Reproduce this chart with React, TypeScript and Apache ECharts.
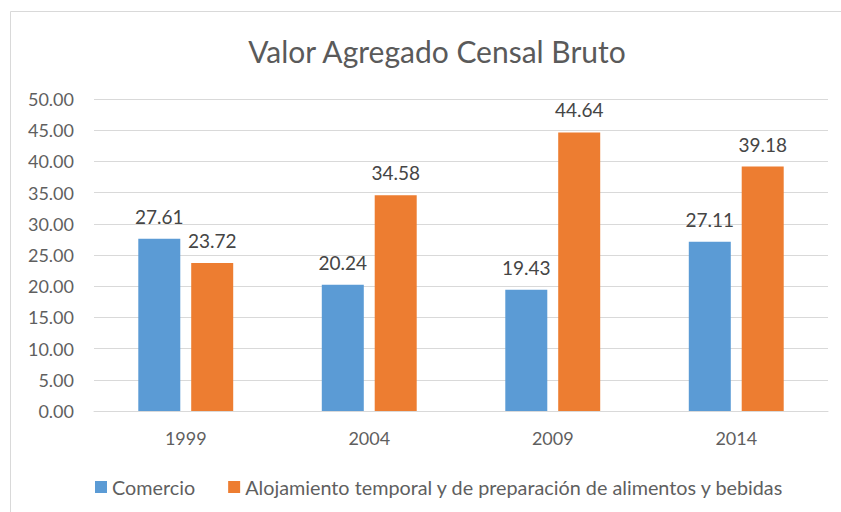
import React, { useEffect, useRef } from "react";
import * as echarts from "echarts";

const categories = ["1999", "2004", "2009", "2014"];
const comercio = [27.61, 20.24, 19.43, 27.11];
const alojamiento = [23.72, 34.58, 44.64, 39.18];
const seriesNames = ["Comercio", "Alojamiento temporal y de preparación de alimentos y bebidas"];
const title = "Valor Agregado Censal Bruto";

const FONT = "Lato, 'Open Sans', sans-serif";

export default function App() {
  const ref = useRef<HTMLDivElement>(null);
  useEffect(() => {
    const chart = echarts.init(ref.current!, undefined, { renderer: "svg" });
    const label = {
      show: true,
      position: "top",
      distance: 13,
      color: "#454545",
      fontSize: 19,
      fontFamily: FONT,
      formatter: (p: any) => p.value.toFixed(2),
    };
    chart.setOption({
      animation: false,
      backgroundColor: "#fff",
      graphic: [
        {
          type: "rect",
          shape: { x: 10.5, y: 11.5, width: 840, height: 520 },
          style: { fill: "none", stroke: "#d9d9d9", lineWidth: 1 },
          silent: true,
        },
      ],
      title: {
        text: title,
        left: 432,
        textAlign: "center",
        top: 31,
        textStyle: { color: "#5a5a5a", fontSize: 30, fontWeight: "normal", fontFamily: FONT },
      },
      legend: {
        left: 90,
        top: 472,
        itemWidth: 12,
        itemHeight: 12,
        itemGap: 33,
        icon: "rect",
        textStyle: { color: "#5f5f5f", fontSize: 19.8, fontFamily: FONT },
        data: seriesNames,
      },
      grid: { left: 94, right: 13, top: 99, bottom: 101, containLabel: false },
      xAxis: {
        type: "category",
        data: categories,
        axisLine: { lineStyle: { color: "#d9d9d9" } },
        axisTick: { show: false },
        axisLabel: { color: "#5f5f5f", fontSize: 18, fontFamily: FONT, margin: 18 },
      },
      yAxis: {
        type: "value",
        min: 0,
        max: 50,
        interval: 5,
        axisLine: { show: false },
        axisTick: { show: false },
        splitLine: { lineStyle: { color: "#d9d9d9" } },
        axisLabel: {
          color: "#5f5f5f",
          fontSize: 18,
          fontFamily: FONT,
          margin: 20,
          formatter: (v: number) => v.toFixed(2),
        },
      },
      series: [
        {
          name: seriesNames[0],
          type: "bar",
          data: comercio,
          barWidth: 42,
          barGap: "26%",
          itemStyle: { color: "#5b9bd5" },
          label,
        },
        {
          name: seriesNames[1],
          type: "bar",
          data: alojamiento,
          barWidth: 42,
          barGap: "26%",
          itemStyle: { color: "#ed7d31" },
          label,
        },
      ],
    });
    return () => chart.dispose();
  }, []);
  return (
    <div
      ref={ref}
      style={{ position: "absolute", left: 0, top: 0, width: 841, height: 512 }}
    />
  );
}
